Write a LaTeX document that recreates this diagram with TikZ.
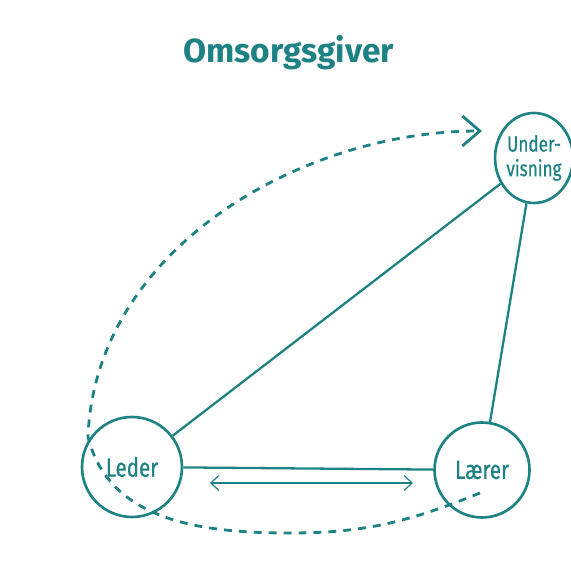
\documentclass[tikz,border=0pt]{standalone}
\usepackage{fontspec}
\setmainfont{Fira Sans}
\newfontfamily\rolefont[FakeStretch=0.78, FakeBold=0.6]{Fira Sans}
\usepackage{xcolor}
\usetikzlibrary{arrows.meta, positioning, calc, shapes.geometric}
\definecolor{tealink}{RGB}{30,130,132}

\begin{document}
\begin{tikzpicture}[>=Straight Barb,
		role/.style={circle, draw=tealink, line width=1.5pt, inner sep=0pt, minimum size=#1, text=tealink, align=center, font=\rolefont\fontsize{15}{14}\selectfont},
		link/.style={draw=tealink, line width=1.3pt},
		swing/.style={draw=tealink, line width=1.6pt, dash pattern=on 4.5pt off 4pt, -{Straight Barb[length=3.5mm, width=6mm, line width=1.6pt]}},
		mutual/.style={draw=tealink, line width=0.7pt, {Straight Barb[length=1.6mm, width=3mm]}-{Straight Barb[length=1.6mm, width=3mm]}}]
	\useasboundingbox (0,0) rectangle (11.4,11.5);
	
	\node[anchor=base, text=tealink, font=\bfseries\fontsize{19}{21}\selectfont] (title) at (5.77, 10.24) {Omsorgsgiver};
	
	\node[role=2.0cm] (leder) at (2.64, 2.16) {Leder};
	\node[role=1.9cm] (laerer) at (9.64, 2.10) {Lærer};
	\node[role=1.4cm, ellipse, minimum height=1.8cm, font=\rolefont\fontsize{12.5}{14}\selectfont] (underv) at (10.68, 8.34) {Under-\\visning};
	
	\draw[link] (leder) -- (underv);
	\draw[link] (underv) -- (laerer);
	\draw[link] (leder) -- (laerer);
	
	\coordinate (arrowL) at (4.20, 1.84);     
	\coordinate (arrowR) at (8.26, 1.84);     
	\draw[mutual] (arrowL) -- (arrowR);
	
	\coordinate (swingStart) at ($(laerer.center)+(-0.04,-0.46)$);
	\coordinate (swingLow) at (5.80, 0.84);   
	\coordinate (swingSide) at (1.76, 2.76);  
	\coordinate (swingTip) at (9.64, 8.88);   
	\draw[swing] (swingStart) to[out=202, in=0] (swingLow) to[out=180, in=-76] (swingSide)
		.. controls (1.90, 6.50) and (6.00, 8.88) .. (swingTip);
\end{tikzpicture}
\end{document}
